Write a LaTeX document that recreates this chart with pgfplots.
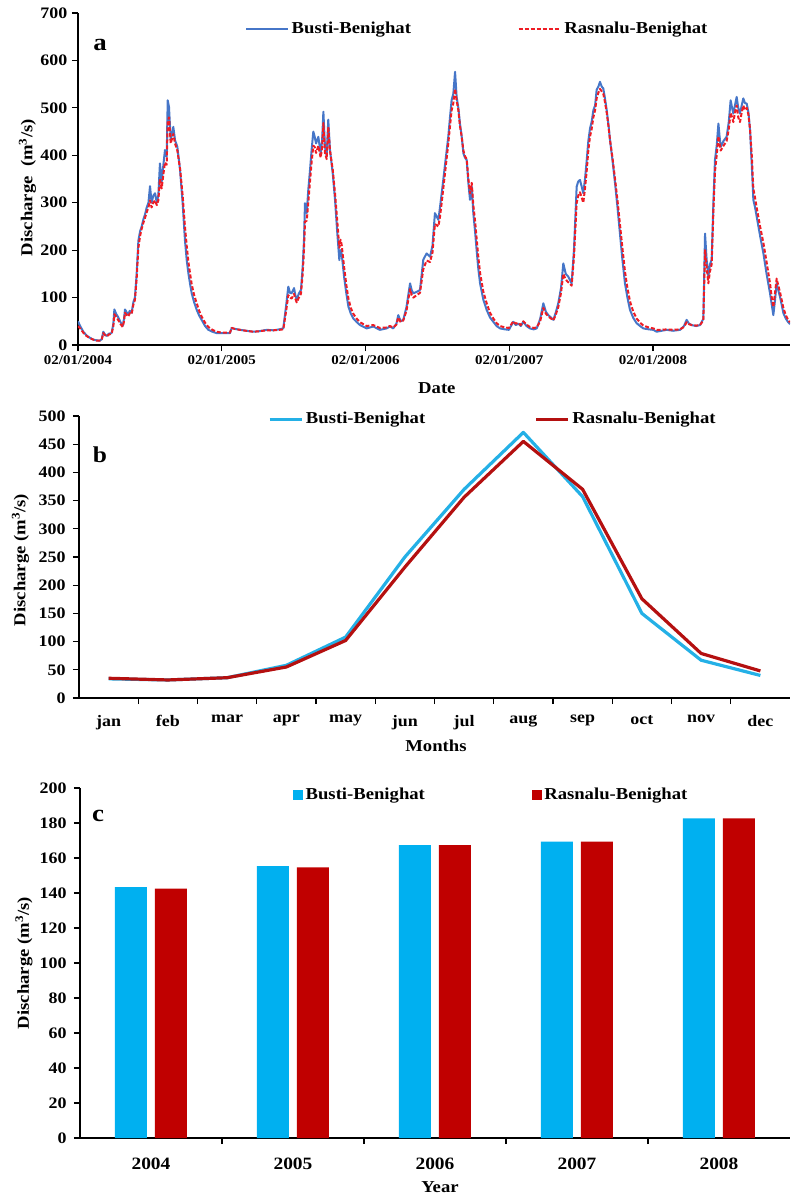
\documentclass[border=0pt]{standalone}
\usepackage{fontspec}
\setmainfont{Liberation Serif}[FakeStretch=1.12]
\usepackage{pgfplots}
\pgfplotsset{compat=1.18}
\definecolor{ablue}{RGB}{70,118,200}
\definecolor{ared}{RGB}{238,28,36}
\definecolor{bblue}{RGB}{36,176,230}
\definecolor{bred}{RGB}{180,16,16}
\definecolor{cblue}{RGB}{0,176,240}
\definecolor{cred}{RGB}{192,0,0}
\begin{document}
\bfseries
\begin{tikzpicture}
\useasboundingbox (0,0) rectangle (592.5pt,-897.75pt);
\pgfplotsset{
  common/.style={
    scale only axis,
    axis x line*=bottom, axis y line*=left,
    axis line style={black, line width=0.9pt},
    tick style={black, line width=0.9pt},
    tick align=outside,
    major tick length=4.5pt,
    minor tick length=4.5pt,
    /pgf/number format/assume math mode=true,
    tick label style={font=\fontsize{12}{14}\selectfont},
    label style={font=\fontsize{12.5}{15}\selectfont},
    legend style={draw=none, fill=none, inner sep=0pt, outer sep=0pt,
      font=\fontsize{12.5}{15}\selectfont, legend columns=2, legend cell align=left,
      nodes={inner sep=2pt}},
  }
}
% ---------------- panel a ----------------
\begin{axis}[common, at={(58.5pt,-258.75pt)}, anchor=south west,
  width=534pt, height=249pt,
  xmin=0, xmax=4.953, ymin=0, ymax=700, ytick={0,100,...,700},
  xtick={0,1,2,3,4},
  xticklabels={02/01/2004,02/01/2005,02/01/2006,02/01/2007,02/01/2008},
  xticklabel style={font=\fontsize{10}{12}\selectfont},
  xlabel={Date}, ylabel={Discharge\ \ (m\textsuperscript{3}/s)},
  xlabel style={at={(axis description cs:0.504,-0.1295)}, anchor=center},
  ylabel style={at={(axis description cs:-0.0709,0.474)}, anchor=center},
  legend style={at={(axis description cs:0.2346,0.9518)}, anchor=west,
    /tikz/every even column/.append style={column sep=78pt}},
  legend image code/.code={\draw[#1] (0pt,0pt) -- (31.5pt,0pt);},
]
\addplot[ablue, line width=1.5pt, line join=round] coordinates {
(0.000,50) (0.015,40) (0.037,28) (0.060,20) (0.084,15) (0.110,11) (0.130,10) (0.150,9) (0.165,12) (0.176,28) (0.188,22) (0.200,19) (0.215,24) (0.234,25) (0.246,45) (0.253,75) (0.265,66) (0.281,58) (0.296,48) (0.311,40) (0.320,55) (0.327,75) (0.340,68) (0.350,65) (0.360,72) (0.373,68) (0.385,90) (0.396,100) (0.408,150) (0.420,220) (0.432,240) (0.443,250) (0.455,265) (0.466,275) (0.478,290) (0.490,300) (0.501,335) (0.512,300) (0.524,315) (0.536,320) (0.548,300) (0.559,316) (0.570,383) (0.582,344) (0.594,380) (0.605,411) (0.617,397) (0.624,516) (0.633,502) (0.645,432) (0.654,445) (0.663,460) (0.675,432) (0.691,418) (0.700,395) (0.710,369) (0.728,299) (0.744,221) (0.756,180) (0.768,151) (0.780,128) (0.791,109) (0.808,90) (0.826,74) (0.843,62) (0.860,53) (0.884,40) (0.907,32) (0.935,28) (0.965,25) (1.000,25) (1.040,25) (1.057,25) (1.069,36) (1.090,34) (1.127,32) (1.170,30) (1.220,28) (1.260,29) (1.313,32) (1.360,31) (1.400,33) (1.428,35) (1.447,81) (1.463,123) (1.475,110) (1.486,109) (1.503,120) (1.512,105) (1.521,95) (1.537,109) (1.551,116) (1.563,165) (1.572,221) (1.579,299) (1.591,278) (1.602,327) (1.614,369) (1.625,411) (1.637,450) (1.646,440) (1.656,425) (1.672,439) (1.688,404) (1.698,430) (1.707,492) (1.718,418) (1.730,397) (1.741,475) (1.753,411) (1.772,362) (1.788,306) (1.804,235) (1.818,179) (1.826,200) (1.834,193) (1.851,144) (1.866,110) (1.881,81) (1.898,66) (1.915,56) (1.940,48) (1.962,42) (2.008,35) (2.054,39) (2.100,32) (2.147,35) (2.170,39) (2.193,35) (2.215,45) (2.228,63) (2.245,50) (2.263,53) (2.285,80) (2.310,130) (2.322,115) (2.333,109) (2.356,112) (2.379,116) (2.402,180) (2.425,193) (2.449,186) (2.466,210) (2.483,278) (2.507,264) (2.518,290) (2.530,320) (2.541,348) (2.553,380) (2.565,411) (2.576,440) (2.588,481) (2.599,516) (2.611,530) (2.623,576) (2.634,523) (2.646,500) (2.657,467) (2.669,440) (2.681,404) (2.692,395) (2.704,390) (2.716,340) (2.727,306) (2.739,334) (2.750,278) (2.762,240) (2.773,200) (2.785,160) (2.797,130) (2.820,95) (2.843,74) (2.866,58) (2.889,49) (2.912,40) (2.936,35) (2.970,33) (2.998,32) (3.028,49) (3.045,42) (3.063,45) (3.080,40) (3.098,49) (3.120,40) (3.144,35) (3.170,33) (3.191,35) (3.215,55) (3.237,88) (3.255,70) (3.272,63) (3.290,58) (3.307,53) (3.325,70) (3.341,88) (3.360,120) (3.376,172) (3.393,150) (3.411,144) (3.434,130) (3.450,200) (3.469,334) (3.480,345) (3.492,348) (3.503,335) (3.515,320) (3.527,350) (3.539,390) (3.550,430) (3.562,457) (3.573,470) (3.585,495) (3.597,505) (3.608,538) (3.620,545) (3.631,555) (3.643,545) (3.654,541) (3.666,520) (3.678,495) (3.690,465) (3.701,432) (3.718,390) (3.736,341) (3.753,290) (3.770,235) (3.787,180) (3.805,130) (3.822,100) (3.840,74) (3.863,57) (3.886,46) (3.910,40) (3.933,35) (3.970,33) (4.002,32) (4.025,28) (4.060,30) (4.095,32) (4.140,30) (4.188,32) (4.215,40) (4.234,53) (4.250,45) (4.269,42) (4.300,40) (4.327,42) (4.350,55) (4.362,235) (4.373,180) (4.385,144) (4.396,170) (4.408,180) (4.420,300) (4.431,390) (4.443,420) (4.455,467) (4.463,440) (4.471,418) (4.490,430) (4.512,439) (4.527,470) (4.540,516) (4.550,500) (4.559,488) (4.570,505) (4.582,523) (4.593,500) (4.605,488) (4.617,505) (4.628,520) (4.640,510) (4.652,509) (4.664,490) (4.675,453) (4.687,380) (4.698,306) (4.710,290) (4.721,271) (4.745,230) (4.768,193) (4.790,150) (4.814,109) (4.826,85) (4.837,63) (4.849,95) (4.860,130) (4.872,115) (4.883,102) (4.895,85) (4.907,67) (4.925,55) (4.941,48) (4.953,44)
};
\addlegendentry{Busti-Benighat}
\addplot[ared, line width=1.5pt, dash pattern=on 3pt off 1.5pt, line join=round] coordinates {
(0.000,40) (0.015,35) (0.037,26) (0.060,19) (0.084,14) (0.110,11) (0.130,9) (0.150,9) (0.165,11) (0.176,25) (0.188,21) (0.200,18) (0.215,22) (0.234,24) (0.246,40) (0.253,65) (0.265,60) (0.281,52) (0.296,44) (0.311,38) (0.320,50) (0.327,68) (0.340,63) (0.350,60) (0.360,67) (0.373,65) (0.385,85) (0.396,95) (0.408,140) (0.420,205) (0.432,230) (0.443,245) (0.455,258) (0.466,268) (0.478,280) (0.490,290) (0.501,305) (0.512,290) (0.524,300) (0.536,305) (0.548,295) (0.559,305) (0.570,350) (0.582,330) (0.594,360) (0.605,385) (0.617,380) (0.624,470) (0.633,480) (0.645,425) (0.654,435) (0.663,445) (0.675,425) (0.691,410) (0.700,392) (0.710,372) (0.728,315) (0.744,250) (0.756,210) (0.768,175) (0.780,150) (0.791,128) (0.808,105) (0.826,88) (0.843,72) (0.860,60) (0.884,47) (0.907,38) (0.935,32) (0.965,28) (1.000,26) (1.040,26) (1.057,26) (1.069,36) (1.090,34) (1.127,32) (1.170,30) (1.220,28) (1.260,29) (1.313,31) (1.360,31) (1.400,32) (1.428,33) (1.447,70) (1.463,105) (1.475,100) (1.486,98) (1.503,108) (1.512,98) (1.521,90) (1.537,100) (1.551,108) (1.563,150) (1.572,200) (1.579,260) (1.591,262) (1.602,300) (1.614,345) (1.625,385) (1.637,420) (1.646,418) (1.656,405) (1.672,420) (1.688,395) (1.698,415) (1.707,468) (1.718,405) (1.730,392) (1.741,460) (1.753,410) (1.772,370) (1.788,320) (1.804,260) (1.818,205) (1.826,222) (1.834,212) (1.851,165) (1.866,128) (1.881,98) (1.898,78) (1.915,66) (1.940,55) (1.962,48) (2.008,40) (2.054,42) (2.100,36) (2.147,37) (2.170,40) (2.193,37) (2.215,43) (2.228,58) (2.245,48) (2.263,52) (2.285,72) (2.310,118) (2.322,105) (2.333,100) (2.356,105) (2.379,110) (2.402,160) (2.425,178) (2.449,175) (2.466,195) (2.483,255) (2.507,250) (2.518,270) (2.530,300) (2.541,330) (2.553,362) (2.565,395) (2.576,425) (2.588,462) (2.599,495) (2.611,510) (2.623,540) (2.634,515) (2.646,495) (2.657,462) (2.669,440) (2.681,410) (2.692,398) (2.704,392) (2.716,350) (2.727,320) (2.739,342) (2.750,295) (2.762,262) (2.773,225) (2.785,185) (2.797,152) (2.820,112) (2.843,88) (2.866,68) (2.889,56) (2.912,46) (2.936,40) (2.970,37) (2.998,36) (3.028,50) (3.045,45) (3.063,47) (3.080,42) (3.098,50) (3.120,43) (3.144,38) (3.170,36) (3.191,37) (3.215,50) (3.237,78) (3.255,66) (3.272,60) (3.290,56) (3.307,52) (3.325,65) (3.341,80) (3.360,110) (3.376,150) (3.393,138) (3.411,132) (3.434,125) (3.450,185) (3.469,300) (3.480,315) (3.492,322) (3.503,312) (3.515,300) (3.527,330) (3.539,368) (3.550,410) (3.562,440) (3.573,455) (3.585,480) (3.597,495) (3.608,520) (3.620,532) (3.631,540) (3.643,535) (3.654,530) (3.666,512) (3.678,490) (3.690,462) (3.701,432) (3.718,395) (3.736,350) (3.753,305) (3.770,255) (3.787,205) (3.805,155) (3.822,120) (3.840,92) (3.863,70) (3.886,56) (3.910,47) (3.933,41) (3.970,37) (4.002,35) (4.025,32) (4.060,32) (4.095,33) (4.140,32) (4.188,33) (4.215,38) (4.234,48) (4.250,44) (4.269,42) (4.300,41) (4.327,42) (4.350,52) (4.362,200) (4.373,165) (4.385,130) (4.396,155) (4.408,170) (4.420,280) (4.431,365) (4.443,400) (4.455,440) (4.463,425) (4.471,410) (4.490,420) (4.512,430) (4.527,455) (4.540,490) (4.550,480) (4.559,470) (4.570,490) (4.582,505) (4.593,480) (4.605,470) (4.617,490) (4.628,505) (4.640,495) (4.652,500) (4.664,485) (4.675,455) (4.687,400) (4.698,330) (4.710,310) (4.721,290) (4.745,250) (4.768,215) (4.790,175) (4.814,130) (4.826,100) (4.837,80) (4.849,110) (4.860,140) (4.872,125) (4.883,112) (4.895,95) (4.907,78) (4.925,62) (4.941,52) (4.953,48)
};
\addlegendentry{Rasnalu-Benighat}
\node[font=\fontsize{18}{20}\selectfont] at (axis description cs:0.0309,0.9036) {a};
\end{axis}
% ---------------- panel b ----------------
\begin{axis}[common, at={(59.25pt,-523.5pt)}, anchor=south west,
  width=533.25pt, height=211.5pt,
  xmin=0.5, xmax=12.5, ymin=0, ymax=500, ytick={0,50,...,500},
  xtick={1,...,12},
  xticklabels={jan,feb,mar,apr,may,jun,jul,aug,sep,oct,nov,dec},
  xticklabel style={yshift=-5pt},
  major x tick style={draw=none},
  minor xtick={1.5,2.5,...,11.5},
  yticklabel style={xshift=-2pt},
  xlabel={Months}, ylabel={Discharge (m\textsuperscript{3}/s)},
  xlabel style={at={(axis description cs:0.502,-0.17)}, anchor=center},
  ylabel style={at={(axis description cs:-0.0823,0.489)}, anchor=center},
  legend style={at={(axis description cs:0.266,0.989)}, anchor=west,
    /tikz/every even column/.append style={column sep=80pt}},
  legend image code/.code={\draw[#1] (0pt,0pt) -- (24pt,0pt);},
]
\addplot[bblue, line width=2.4pt, line join=round] coordinates {
(1,34) (2,32) (3,36) (4,58) (5,108) (6,250) (7,370) (8,471) (9,357) (10,150) (11,67) (12,40)
};
\addlegendentry{Busti-Benighat}
\addplot[bred, line width=2.4pt, line join=round] coordinates {
(1,35) (2,32) (3,36) (4,55) (5,102) (6,232) (7,356) (8,455) (9,370) (10,176) (11,79) (12,48)
};
\addlegendentry{Rasnalu-Benighat}
\node[font=\fontsize{17}{20}\selectfont] at (axis description cs:0.0295,0.862) {b};
\end{axis}
% ---------------- panel c ----------------
\begin{axis}[common, at={(60pt,-853.5pt)}, anchor=south west,
  width=532.5pt, height=262.5pt,
  ybar, bar width=24pt,
  xmin=0.5, xmax=5.5, ymin=0, ymax=200, ytick={0,20,...,200},
  xtick={1,...,5},
  xticklabels={2004,2005,2006,2007,2008},
  xticklabel style={yshift=-7pt, font=\fontsize{13}{15}\selectfont},
  major x tick style={draw=none},
  minor xtick={1.5,2.5,...,4.5},
  yticklabel style={xshift=-2pt},
  xlabel={Year}, ylabel={Discharge (m\textsuperscript{3}/s)},
  xlabel style={at={(axis description cs:0.507,-0.14)}, anchor=center},
  ylabel style={at={(axis description cs:-0.0789,0.5)}, anchor=center},
  legend style={at={(axis description cs:0.30,0.98)}, anchor=west,
    /tikz/every even column/.append style={column sep=78pt}},
  legend image code/.code={\path[#1] (0pt,-3.75pt) rectangle (7.5pt,3.75pt);},
]
\addplot[fill=cblue, draw=none, bar shift=-15pt] coordinates {
(1,143.3) (2,155.4) (3,167.4) (4,169.3) (5,182.7)
};
\addlegendentry{Busti-Benighat}
\addplot[fill=cred, draw=none, bar shift=15pt] coordinates {
(1,142.5) (2,154.7) (3,167.4) (4,169.3) (5,182.7)
};
\addlegendentry{Rasnalu-Benighat}
\node[font=\fontsize{18}{20}\selectfont] at (axis description cs:0.0254,0.92) {c};
\end{axis}
\end{tikzpicture}
\end{document}
